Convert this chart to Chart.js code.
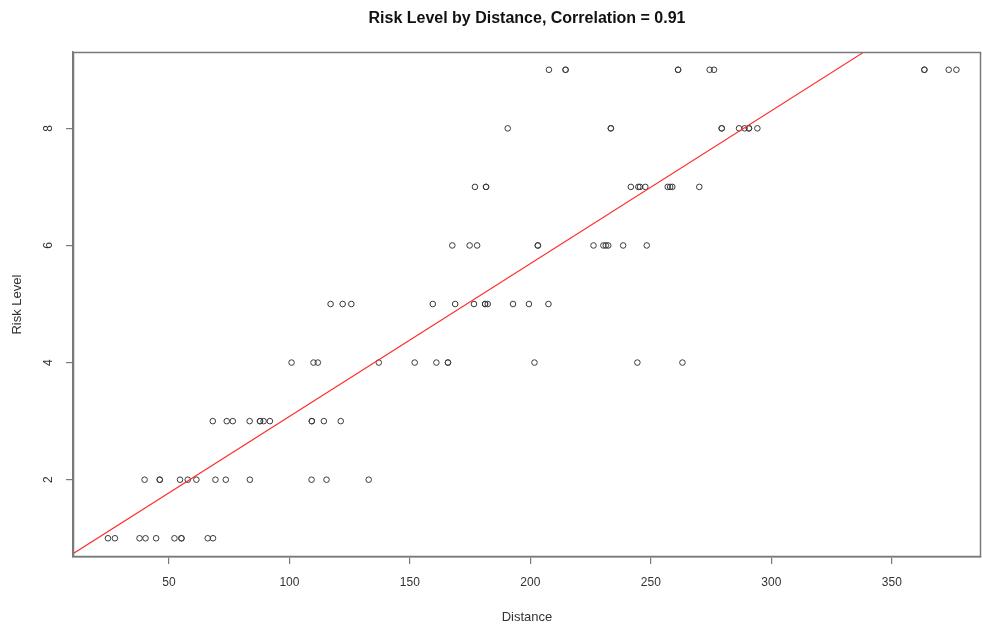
<!DOCTYPE html>
<html>
<head>
  <title>Risk Level by Distance</title>
  <style>
body {
  margin: 0;
  background: #ffffff;
}
  </style>
  <script src="https://cdn.jsdelivr.net/npm/chart.js@4.4.1/dist/chart.umd.min.js"></script>
</head>
<body>
  <canvas id="riskChart" width="982" height="625"></canvas>
  <script type="text/javascript">
    // distances, grouped with their risk level
    var distance = [
      24.7, 27.6, 37.8, 40.3, 44.7, 52.3, 55.2, 55.2, 66.1, 68.3,
      39.9, 46.2, 46.2, 54.6, 57.8, 61.4, 69.3, 73.6, 83.6, 109.2, 115.4, 132.9,
      68.2, 74.0, 76.5, 83.5, 87.8, 87.8, 89.3, 91.9, 109.3, 109.3, 114.3, 121.3,
      100.9, 110.0, 111.8, 137.1, 152.0, 161.0, 165.8, 165.8, 201.7, 244.4, 263.1,
      117.1, 122.1, 125.7, 159.5, 168.8, 176.6, 181.2, 181.2, 182.3, 192.8, 199.4, 207.5,
      167.6, 174.8, 177.9, 203.1, 203.1, 226.2, 230.3, 231.3, 232.3, 238.5, 248.3,
      177.0, 181.6, 181.6, 241.7, 244.8, 245.5, 247.7, 257.0, 258.0, 258.9, 270.1,
      190.6, 233.4, 233.4, 279.4, 279.4, 286.6, 288.9, 290.7, 290.7, 294.2,
      207.7, 214.6, 214.6, 261.3, 261.3, 274.4, 276.2, 363.5, 363.5, 373.6, 376.8
    ];
    var riskLevel = [
      1, 1, 1, 1, 1, 1, 1, 1, 1, 1,
      2, 2, 2, 2, 2, 2, 2, 2, 2, 2, 2, 2,
      3, 3, 3, 3, 3, 3, 3, 3, 3, 3, 3, 3,
      4, 4, 4, 4, 4, 4, 4, 4, 4, 4, 4,
      5, 5, 5, 5, 5, 5, 5, 5, 5, 5, 5, 5,
      6, 6, 6, 6, 6, 6, 6, 6, 6, 6, 6,
      7, 7, 7, 7, 7, 7, 7, 7, 7, 7, 7,
      8, 8, 8, 8, 8, 8, 8, 8, 8, 8,
      9, 9, 9, 9, 9, 9, 9, 9, 9, 9, 9
    ];
    var xTicks = [50, 100, 150, 200, 250, 300, 350];
    var yTicks = [2, 4, 6, 8];
    // fitted line (abline of lm)
    var fitIntercept = 0.47;
    var fitSlope = 0.0261;
    var xRange = [10.2, 387];
    var yRange = [0.68, 9.3];

    var points = distance.map(function(d, i) {
      return { x: d, y: riskLevel[i] };
    });
    var fitLine = xRange.map(function(x) {
      return { x: x, y: fitIntercept + fitSlope * x };
    });

    // box around the plot region and R-style rotated y tick labels
    var rFrame = {
      id: 'rFrame',
      afterDraw: function(chart) {
        var ctx = chart.ctx;
        var a = chart.chartArea;
        ctx.save();
        ctx.strokeStyle = '#7a7a7a';
        ctx.lineWidth = 1.5;
        ctx.strokeRect(Math.round(a.left) + 0.5, Math.round(a.top) + 0.5,
          Math.round(a.right - a.left) - 1, Math.round(a.bottom - a.top) - 1);
        var ys = chart.scales.y;
        ctx.fillStyle = '#333333';
        ctx.font = '12px "Liberation Sans", Arial, sans-serif';
        ctx.textAlign = 'center';
        ctx.textBaseline = 'middle';
        yTicks.forEach(function(v) {
          var py = ys.getPixelForValue(v);
          ctx.save();
          ctx.translate(49, py);
          ctx.rotate(-Math.PI / 2);
          ctx.fillText(String(v), 0, 0);
          ctx.restore();
        });
        ctx.restore();
      }
    };

    var ctx = document.getElementById('riskChart').getContext('2d');
    var riskChart = new Chart(ctx, {
      type: 'scatter',
      data: {
        datasets: [{
          label: 'Risk Level',
          data: points,
          pointStyle: 'circle',
          pointRadius: 2.8,
          pointBorderWidth: 1,
          pointBorderColor: '#3a3a3a',
          pointBackgroundColor: 'rgba(0,0,0,0)',
          order: 2
        }, {
          type: 'line',
          label: 'Fit',
          data: fitLine,
          borderColor: '#ff2a2a',
          borderWidth: 1.1,
          pointRadius: 0,
          fill: false,
          order: 1
        }]
      },
      options: {
        responsive: false,
        animation: false,
        layout: {
          autoPadding: false,
          padding: { top: 0, left: 0, right: 1, bottom: 0 }
        },
        plugins: {
          legend: { display: false },
          tooltip: { enabled: false },
          title: {
            display: true,
            text: 'Risk Level by Distance, Correlation = 0.91',
            fullSize: false,
            color: '#111111',
            font: { family: '"Liberation Sans", Arial, sans-serif', size: 16, weight: 'bold', lineHeight: 1.2 },
            padding: { top: 9, bottom: 24 }
          }
        },
        scales: {
          x: {
            type: 'linear',
            min: xRange[0],
            max: xRange[1],
            afterBuildTicks: function(scale) {
              scale.ticks = xTicks.map(function(v) { return { value: v }; });
            },
            afterFit: function(scale) {
              scale.height = 68;
              scale.paddingLeft = 0;
              scale.paddingRight = 0;
            },
            grid: {
              drawOnChartArea: false,
              drawTicks: true,
              tickLength: 7,
              lineWidth: 1.2,
              color: '#7a7a7a'
            },
            border: { display: true, color: '#7a7a7a', width: 1.5 },
            ticks: {
              color: '#333333',
              padding: 11,
              maxRotation: 0,
              font: { family: '"Liberation Sans", Arial, sans-serif', size: 12 }
            },
            title: {
              display: true,
              text: 'Distance',
              color: '#333333',
              padding: { top: 0, bottom: 0 },
              font: { family: '"Liberation Sans", Arial, sans-serif', size: 13 }
            }
          },
          y: {
            type: 'linear',
            min: yRange[0],
            max: yRange[1],
            afterBuildTicks: function(scale) {
              scale.ticks = yTicks.map(function(v) { return { value: v }; });
            },
            afterFit: function(scale) {
              scale.width = 73;
              scale.paddingTop = 0;
              scale.paddingBottom = 0;
            },
            grid: {
              drawOnChartArea: false,
              drawTicks: true,
              tickLength: 7,
              lineWidth: 1.2,
              color: '#7a7a7a'
            },
            border: { display: true, color: '#7a7a7a', width: 1.5 },
            ticks: {
              color: 'rgba(0,0,0,0)',
              font: { family: '"Liberation Sans", Arial, sans-serif', size: 12 }
            },
            title: {
              display: true,
              text: 'Risk Level',
              color: '#333333',
              padding: { top: 10, bottom: 0 },
              font: { family: '"Liberation Sans", Arial, sans-serif', size: 13 }
            }
          }
        }
      },
      plugins: [rFrame]
    });
  </script>
</body>
</html>
